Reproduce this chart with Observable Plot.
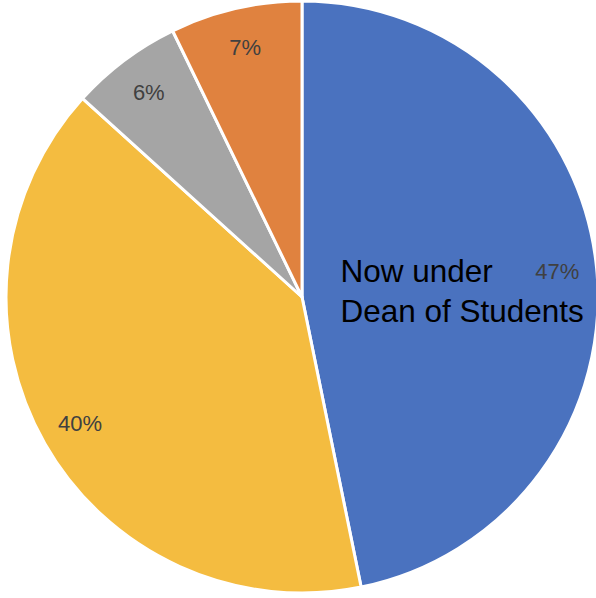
<!DOCTYPE html>
<html>
<head>
<meta charset="utf-8">
<script src="https://cdn.jsdelivr.net/npm/d3@7"></script>
<script src="https://cdn.jsdelivr.net/npm/@observablehq/plot@0.6"></script>
<style>
  html, body { margin: 0; padding: 0; background: #fff; }
  svg { display: block; }
</style>
</head>
<body>
<div id="chart"></div>
<script>
// Slices, clockwise from 12 o'clock
const categories = ["Dean of Students", "Slice B", "Slice C", "Slice D"];
const values = [46.8, 39.9, 6.1, 7.2];
const labels = ["47%", "40%", "6%", "7%"];
const colors = ["#4A72BF", "#F4BC40", "#A5A5A5", "#E0823F"];
const annotation = "Now under\nDean of Students";

const rows = categories.map((c, i) => ({category: c, value: values[i], label: labels[i], color: colors[i]}));
const arcs = d3.pie().sort(null).value(d => d.value)(rows);
const labelR = 0.865;
const labelRows = arcs.map(a => {
  const m = (a.startAngle + a.endAngle) / 2;
  return {label: a.data.label, x: labelR * Math.sin(m), y: labelR * Math.cos(m)};
});

const pieMark = (index, scales, vals, dimensions, context) => {
  const cx = scales.x(0), cy = scales.y(0);
  const R = scales.x(1) - scales.x(0);
  const arc = d3.arc().innerRadius(0).outerRadius(R);
  const g = d3.create("svg:g").attr("transform", `translate(${cx},${cy})`);
  g.selectAll("path").data(arcs).join("path")
    .attr("d", arc)
    .attr("fill", d => d.data.color)
    .attr("stroke", "#fff")
    .attr("stroke-width", 3)
    .attr("stroke-linejoin", "round");
  return g.node();
};

const chart = Plot.plot({
  width: 596,
  height: 598,
  margin: 0,
  x: {domain: [-1.0203, 0.9932], axis: null},
  y: {domain: [-1.0169, 1.0034], axis: null},
  marks: [
    pieMark,
    Plot.text(labelRows, {x: "x", y: "y", text: "label", fill: "#404040", fontSize: 22, fontFamily: "Liberation Sans, Arial, sans-serif"}),
    Plot.text([annotation], {x: [0.128], y: [0.027], text: d => d, textAnchor: "start", lineHeight: 1.25, fill: "#000", fontSize: 31.5, fontFamily: "Liberation Sans, Arial, sans-serif"})
  ]
});
document.getElementById("chart").appendChild(chart);
</script>
</body>
</html>
